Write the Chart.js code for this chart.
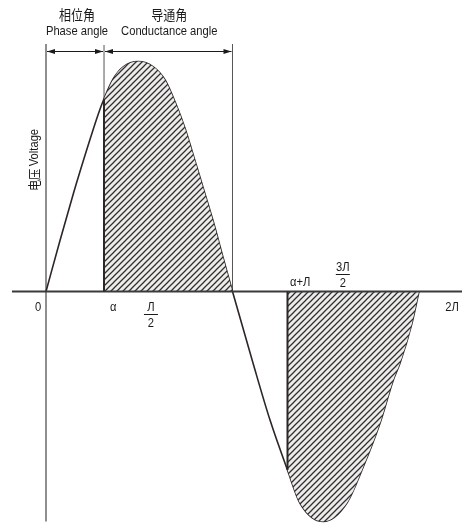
<!DOCTYPE html>
<html>
<head>
<meta charset="utf-8">
<script src="https://cdn.jsdelivr.net/npm/chart.js@4.4.1/dist/chart.umd.min.js"></script>
<style>
  html, body { margin: 0; padding: 0; background: #fff; }
  #wrap { width: 462px; height: 523px; }
</style>
</head>
<body>
<div id="wrap"><canvas id="wave"></canvas></div>
<script>
// phase angle in degrees, voltage normalised to the peak
const phaseDeg = [0, 12.5, 24.4, 36.3, 46.7, 51.8, 60.1, 69, 82.4, 95.8, 106.3, 115.2, 124.1, 131.5, 140.4,
    149.4, 158.3, 166.5, 184.8, 200, 215.6, 226.8, 247.6, 268.5, 283.3, 298.2, 310.1, 316.1, 326.8, 333];
const voltage = [0, 0.222, 0.425, 0.615, 0.772, 0.838, 0.925, 0.977, 1.0, 0.977, 0.92, 0.825, 0.71, 0.593, 0.449,
    0.303, 0.144, 0, -0.311, -0.559, -0.776, -0.921, -1.0, -0.921, -0.762, -0.573, -0.385, -0.311, -0.137, 0];

const alphaDeg = 51.8;     // firing angle
const offDeg = 166.5;      // end of first conduction
const alphaPiDeg = 215.6;  // second firing
const endDeg = 333;

const tickLabels = ["0", "α", "Л/2", "α+Л", "3Л/2", "2Л"];
const tickDeg = [-7, 60, 93.7, 227, 265, 362.5];
const tickAbove = [false, false, false, true, true, false];

const phaseTitle = ["相位角", "Phase angle"];
const conductTitle = ["导通角", "Conductance angle"];
const yTitle = ["电压 ", "Voltage"];

const LATIN = '"Liberation Sans", Arial, sans-serif';
const CJK = '"Noto Sans CJK SC", sans-serif';
const NARROW = 0.86;
const INK = "#1c1a1a";

function hatchPattern() {
    const s = 6;
    const c = document.createElement("canvas");
    c.width = s;
    c.height = s;
    const g = c.getContext("2d");
    g.fillStyle = "#ececec";
    g.fillRect(0, 0, s, s);
    g.strokeStyle = "#332c2c";
    g.lineWidth = 1.25;
    g.beginPath();
    g.moveTo(0, s); g.lineTo(s, 0);
    g.moveTo(-1, 1); g.lineTo(1, -1);
    g.moveTo(s - 1, s + 1); g.lineTo(s + 1, s - 1);
    g.stroke();
    return g.createPattern(c, "repeat");
}

function pointsBetween(a, b) {
    const out = [];
    phaseDeg.forEach((x, i) => {
        if (x >= a && x <= b) out.push({ x, y: voltage[i] });
    });
    return out;
}

const curve = phaseDeg.map((x, i) => ({ x, y: voltage[i] }));
const hatch = hatchPattern();

function line(ctx, x1, y1, x2, y2, color, width) {
    ctx.strokeStyle = color;
    ctx.lineWidth = width;
    ctx.beginPath();
    ctx.moveTo(x1, y1);
    ctx.lineTo(x2, y2);
    ctx.stroke();
}

function arrowHead(ctx, x, y, dir) {
    ctx.fillStyle = INK;
    ctx.beginPath();
    ctx.moveTo(x, y);
    ctx.lineTo(x - dir * 8, y - 2.5);
    ctx.lineTo(x - dir * 8, y + 2.5);
    ctx.closePath();
    ctx.fill();
}

// condensed look: squeeze the text horizontally
function label(ctx, str, x, y, font) {
    ctx.save();
    ctx.translate(x, y);
    ctx.scale(NARROW, 1);
    ctx.font = font;
    ctx.fillStyle = INK;
    ctx.fillText(str, 0, 0);
    ctx.restore();
}

function fraction(ctx, top, x, barY) {
    const f = "13px " + LATIN;
    label(ctx, top, x, barY - 7, f);
    line(ctx, x - 7, barY, x + 7, barY, INK, 1);
    label(ctx, "2", x, barY + 9, f);
}

const axesPlugin = {
    id: "axes",
    beforeDatasetsDraw(chart) {
        const { ctx, scales: { x, y } } = chart;
        const y0 = y.getPixelForValue(0);
        const x0 = x.getPixelForValue(0);
        const top = 44;
        ctx.save();
        line(ctx, x0, top, x0, y.getPixelForValue(-1.0), "#6a6a6a", 1.5);
        line(ctx, x.getPixelForValue(alphaDeg), top + 1, x.getPixelForValue(alphaDeg), y0, "#555", 1);
        line(ctx, x.getPixelForValue(offDeg), top, x.getPixelForValue(offDeg), y0, "#555", 1);
        ctx.restore();
    },
    afterDatasetsDraw(chart) {
        const { ctx, scales: { x, y } } = chart;
        const y0 = y.getPixelForValue(0);
        ctx.save();
        // x axis on top of the hatching
        line(ctx, x.getPixelForValue(-30.4), y0, chart.width, y0, "#3a3a3a", 2);
        // dark edges where the thyristor fires
        const va = voltage[phaseDeg.indexOf(alphaDeg)];
        const vb = voltage[phaseDeg.indexOf(alphaPiDeg)];
        line(ctx, x.getPixelForValue(alphaDeg), y0, x.getPixelForValue(alphaDeg), y.getPixelForValue(va), "#2e2626", 2);
        line(ctx, x.getPixelForValue(alphaPiDeg), y0, x.getPixelForValue(alphaPiDeg), y.getPixelForValue(vb), "#2e2626", 2);

        // angle arrows
        const ay = 51.5;
        const xa = x.getPixelForValue(0), xb = x.getPixelForValue(alphaDeg), xc = x.getPixelForValue(offDeg);
        line(ctx, xa + 1, ay, xb - 1, ay, INK, 1);
        line(ctx, xb + 1, ay, xc - 1, ay, INK, 1);
        arrowHead(ctx, xa + 1, ay, -1);
        arrowHead(ctx, xb - 1, ay, 1);
        arrowHead(ctx, xb + 1, ay, -1);
        arrowHead(ctx, xc - 1, ay, 1);

        ctx.textAlign = "center";
        ctx.textBaseline = "middle";
        const pc = (xa + xb) / 2 + 2, cc = (xb + xc) / 2 + 1;
        label(ctx, phaseTitle[0], pc, 15, "14px " + CJK);
        label(ctx, conductTitle[0], cc, 15, "14px " + CJK);
        label(ctx, phaseTitle[1], pc, 31, "13px " + LATIN);
        label(ctx, conductTitle[1], cc, 31, "13px " + LATIN);

        // y title
        ctx.save();
        ctx.translate(34, 160);
        ctx.rotate(-Math.PI / 2);
        ctx.font = "13px " + CJK;
        const wcn = ctx.measureText(yTitle[0]).width * NARROW;
        ctx.font = "13px " + LATIN;
        const wen = ctx.measureText(yTitle[1]).width * NARROW;
        const start = -(wcn + wen) / 2;
        ctx.textAlign = "left";
        label(ctx, yTitle[0], start, 0, "13px " + CJK);
        label(ctx, yTitle[1], start + wcn, 0, "13px " + LATIN);
        ctx.restore();

        // tick labels
        ctx.textAlign = "center";
        tickLabels.forEach((t, i) => {
            const px = x.getPixelForValue(tickDeg[i]);
            if (t.endsWith("/2")) {
                fraction(ctx, t.slice(0, -2), px, tickAbove[i] ? y0 - 17 : y0 + 23);
            } else {
                label(ctx, t, px, tickAbove[i] ? y0 - 9 : y0 + 16, "13px " + LATIN);
            }
        });
        ctx.restore();
    }
};

const lineStyle = { showLine: true, pointRadius: 0, cubicInterpolationMode: "monotone" };

new Chart(document.getElementById("wave"), {
    type: "scatter",
    data: {
        datasets: [
            {
                ...lineStyle,
                data: pointsBetween(alphaDeg, offDeg),
                borderWidth: 0,
                borderColor: "rgba(0,0,0,0)",
                backgroundColor: hatch,
                fill: "origin"
            },
            {
                ...lineStyle,
                data: pointsBetween(alphaPiDeg, endDeg),
                borderWidth: 0,
                borderColor: "rgba(0,0,0,0)",
                backgroundColor: hatch,
                fill: "origin"
            },
            {
                ...lineStyle,
                data: curve,
                borderColor: "#2e2626",
                borderWidth: 1.6,
                fill: false
            }
        ]
    },
    options: {
        responsive: true,
        maintainAspectRatio: false,
        animation: false,
        layout: { padding: 0 },
        plugins: { legend: { display: false }, tooltip: { enabled: false } },
        scales: {
            x: { type: "linear", display: false, min: -41.07, max: 371.4 },
            y: { type: "linear", display: false, min: -1.0065, max: 1.2674 }
        }
    },
    plugins: [axesPlugin]
});
</script>
</body>
</html>
